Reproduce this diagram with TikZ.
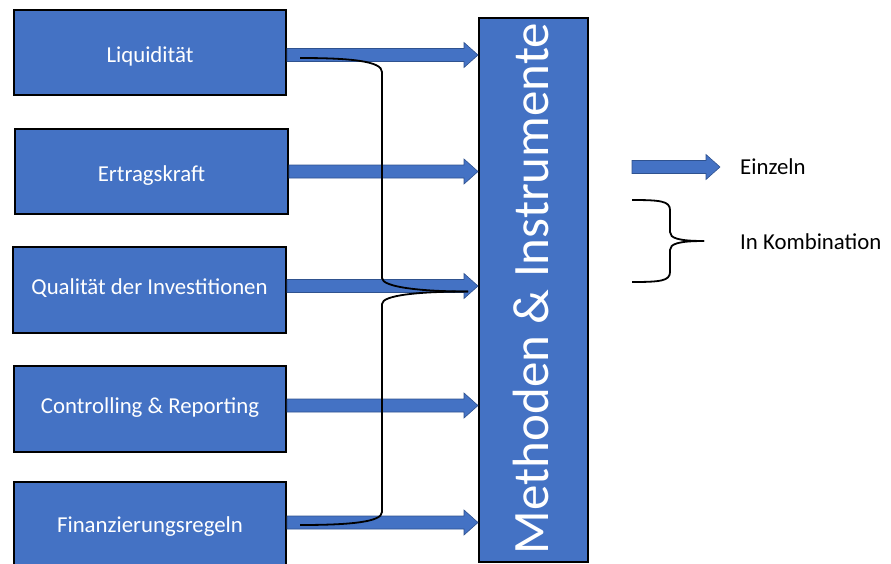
\documentclass[tikz,border=0pt]{standalone}
\usepackage{fontspec}
\setmainfont{Carlito}
\usetikzlibrary{calc}
\definecolor{obl}{HTML}{4472C4}
\definecolor{obd}{HTML}{2F528F}
\tikzset{
  box/.style={rectangle, fill=obl, draw=black, line width=2pt, text=white,
    font=\fontsize{22.8}{26}\selectfont, inner sep=0pt, text depth=0pt},
  bigbox/.style={rectangle, fill=obl, draw=black, line width=2pt, inner sep=0pt},
  arrowfill/.style={fill=obl, draw=obd, line width=0.6pt},
  combo/.style={draw=black, line width=1.8pt},
  legtext/.style={anchor=west, font=\fontsize{22.8}{26}\selectfont, inner sep=0pt}
}
\newcommand\blockarrow[2]{%
  \filldraw[arrowfill] let \p1=(#1), \p2=(#2) in
    (\x1,\y1+6.5pt) -- (\x2-14pt,\y1+6.5pt) -- (\x2-14pt,\y1+12.5pt) -- (\x2,\y1)
    -- (\x2-14pt,\y1-12.5pt) -- (\x2-14pt,\y1-6.5pt) -- (\x1,\y1-6.5pt) -- cycle;}
\begin{document}
\begin{tikzpicture}[x=1pt,y=-1pt]
\useasboundingbox (0,0) rectangle (891,563);
% source boxes
\node[box, minimum width=272pt, minimum height=85pt, text height=19pt] (l1) at (150,52.5) {Liquidität};
\node[box, minimum width=273pt, minimum height=85pt, text height=19pt] (l2) at (151.5,171.5) {Ertragskraft};
\node[box, minimum width=273pt, minimum height=86pt, text height=9pt] (l3) at (149.5,289.5) {Qualität der Investitionen};
\node[box, minimum width=272pt, minimum height=86pt, text height=8pt] (l4) at (150,409) {Controlling \& Reporting};
\node[box, minimum width=272pt, minimum height=84pt, text height=16pt] (l5) at (150,524) {Finanzierungsregeln};
% target box
\node[bigbox, minimum width=109pt, minimum height=544pt] (m) at (533.5,290) {};
\node[rotate=90, anchor=base, text=white, font=\fontsize{51}{56}\selectfont, inner sep=0pt] (mt) at (548,288.5) {Methoden \& Instrumente};
% arrows
\coordinate (a1) at ($(l1.east)+(0,2.5)$);
\blockarrow{a1}{a1 -| m.west}
\blockarrow{l2.east}{l2.east -| m.west}
\coordinate (a3) at ($(l3.east)+(0,-3.5)$);
\blockarrow{a3}{a3 -| m.west}
\coordinate (a4) at ($(l4.east)+(0,-3.5)$);
\blockarrow{a4}{a4 -| m.west}
\coordinate (a5) at ($(l5.east)+(0,-1.5)$);
\blockarrow{a5}{a5 -| m.west}
% combination brace
\coordinate (ct) at (300,58);
\coordinate (cb) at (300,525);
\coordinate (k) at (468,291.5);
\draw[combo] (ct) .. controls (350,58) and (382,61) .. (382,72) -- (382,278)
  .. controls (382,287) and (420,291.5) .. (k);
\draw[combo] (k) .. controls (420,291.5) and (382,295) .. (382,304) -- (382,512)
  .. controls (382,522) and (350,525) .. (cb);
% legend
\coordinate (la1) at (632,167);
\coordinate (la2) at (720,167);
\blockarrow{la1}{la2}
\node[legtext] (le) at (740,167) {Einzeln};
\coordinate (bt) at (632,200);
\coordinate (bm) at (704,241);
\coordinate (bb) at (632,282);
\draw[combo] (bt) .. controls (660,200) and (670,201) .. (670,210) -- (670,232)
  .. controls (670,238) and (678,241) .. (bm);
\draw[combo] (bm) .. controls (678,241) and (670,244) .. (670,250) -- (670,272)
  .. controls (670,281) and (660,282) .. (bb);
\node[legtext] (lk) at (740,242) {In Kombination};
\end{tikzpicture}
\end{document}
